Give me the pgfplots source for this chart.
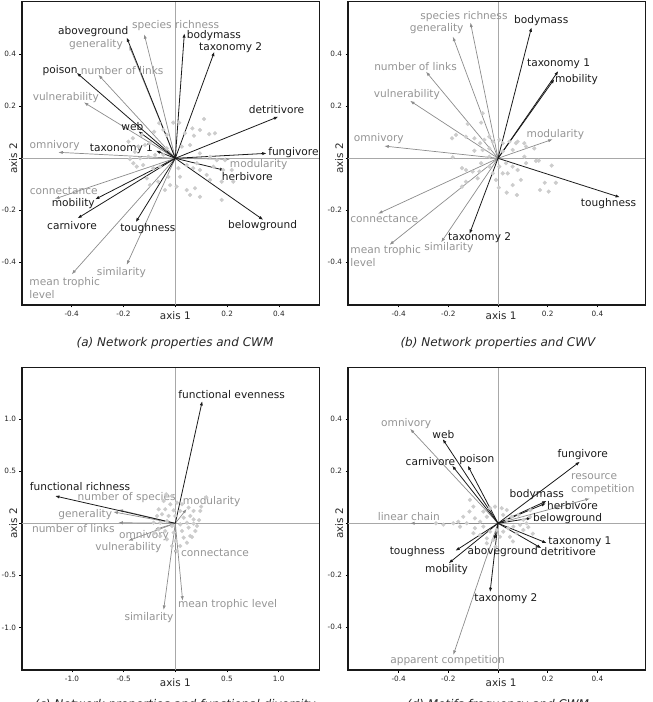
\documentclass[border=0pt]{standalone}
\usepackage{pgfplots}
\pgfplotsset{compat=1.18}
\usepackage{fontspec}
\setmainfont{DejaVu Sans}
\usetikzlibrary{arrows.meta}
\definecolor{arrblack}{HTML}{1A1A1A}
\definecolor{arrgray}{HTML}{8C8C8C}
\definecolor{txtblack}{HTML}{1A1A1A}
\definecolor{txtgray}{HTML}{949494}
\definecolor{dotgray}{HTML}{CCCCCC}
\definecolor{zerogray}{HTML}{A8A8A8}
\newcommand{\lab}{\fontsize{10.6}{13}\selectfont}
\newcommand{\tickf}{\fontsize{7.3}{8}\selectfont}
\newcommand{\axf}{\fontsize{10.4}{12}\selectfont}
\newcommand{\capf}{\fontsize{12}{14}\selectfont\itshape}
\pgfplotsset{
  bp/.style={scale only axis, anchor=south west, clip=false,
    axis line style={line width=1.1pt, black!90},
    tick pos=left,
    tick align=outside, major tick length=2.5pt,
    every tick/.style={black, line width=0.6pt},
    xticklabel style={font=\tickf, text=black!85},
    yticklabel style={font=\tickf, text=black!85}},
  ba/.style={arrblack, line width=0.8pt, -{Latex[length=4.5pt,width=3.2pt]},
    quiver={u=\thisrow{u}, v=\thisrow{v}}},
  ga/.style={arrgray, line width=0.7pt, -{Latex[length=4.5pt,width=3.2pt]},
    quiver={u=\thisrow{u}, v=\thisrow{v}}},
  dots/.style={only marks, mark=*, mark size=1.9pt, color=dotgray},
  zl/.style={zerogray, line width=0.6pt},
}
\tikzset{bl/.style={font=\lab, text=txtblack, inner sep=0pt},
         gl/.style={font=\lab, text=txtgray, inner sep=0pt}}
\begin{document}
\begin{tikzpicture}
\useasboundingbox (0,0) rectangle (653pt,702pt);
% ---------------- (a) ----------------
\begin{axis}[bp, at={(22pt,397pt)}, width=297.3pt, height=303.3pt,
  xmin=-0.592, xmax=0.556, ymin=-0.564, ymax=0.602,
  xtick={-0.4,-0.2,0,0.2,0.4}, xticklabels={-0.4,-0.2,,0.2,0.4},
  ytick={-0.4,-0.2,0,0.2,0.4}, yticklabels={-0.4,-0.2,,0.2,0.4}]
\addplot[zl] coordinates {(-0.592,0) (0.556,0)};
\addplot[zl] coordinates {(0,-0.564) (0,0.602)};
\addplot[dots] table {
x y
0.111 0.151
0.153 0.096
0.131 0.093
0.095 0.109
0.066 0.115
0.072 0.087
0.037 0.096
0.015 0.137
-0.008 0.137
-0.062 0.135
-0.082 0.102
-0.046 0.109
-0.033 0.090
-0.130 0.090
-0.164 0.077
-0.181 0.064
-0.117 0.051
-0.098 0.058
-0.143 0.045
-0.156 0.025
-0.175 -0.003
-0.136 0.000
-0.104 0.006
-0.078 0.013
-0.046 0.013
-0.033 0.038
0.025 0.045
0.057 0.051
0.095 0.019
0.134 0.006
0.160 -0.007
0.192 -0.007
0.083 -0.019
0.044 -0.026
0.012 -0.038
0.069 -0.038
0.095 -0.045
0.147 -0.032
0.185 -0.045
0.218 -0.045
0.121 -0.064
0.018 -0.071
-0.027 -0.071
-0.059 -0.032
-0.085 -0.038
-0.124 -0.026
-0.149 -0.032
-0.162 -0.019
-0.066 -0.090
-0.020 -0.103
0.005 -0.109
0.044 -0.122
0.076 -0.115
0.057 -0.141
0.095 -0.148
0.134 -0.083
0.179 -0.090
-0.040 -0.122
-0.098 -0.103
-0.110 -0.077
0.179 -0.160
0.224 -0.090
};
\addplot[ga] table[x expr=0, y expr=0] {
u v
-0.120 0.477
-0.178 0.432
-0.297 0.321
-0.353 0.215
-0.452 0.023
0.211 -0.004
-0.465 -0.156
-0.188 -0.410
-0.400 -0.446
};
\addplot[ba] table[x expr=0, y expr=0] {
u v
-0.188 0.465
0.035 0.481
0.151 0.410
-0.381 0.329
-0.143 0.104
-0.075 0.029
0.398 0.160
0.353 0.019
0.190 -0.046
0.340 -0.237
-0.310 -0.158
-0.378 -0.231
-0.153 -0.246
};
\node[gl] at (axis cs:0.001,0.509) {species richness};
\node[gl] at (axis cs:-0.306,0.438) {generality};
\node[gl] at (axis cs:-0.205,0.337) {number of links};
\node[gl] at (axis cs:-0.423,0.232) {vulnerability};
\node[gl] at (axis cs:-0.466,0.047) {omnivory};
\node[gl] at (axis cs:0.322,-0.024) {modularity};
\node[gl] at (axis cs:-0.431,-0.127) {connectance};
\node[gl] at (axis cs:-0.208,-0.438) {similarity};
\node[gl, align=left, anchor=west] at (axis cs:-0.564,-0.499) {mean trophic\\level};
\node[bl] at (axis cs:-0.317,0.486) {aboveground};
\node[bl] at (axis cs:0.149,0.471) {bodymass};
\node[bl] at (axis cs:0.214,0.427) {taxonomy 2};
\node[bl] at (axis cs:-0.445,0.337) {poison};
\node[bl] at (axis cs:-0.166,0.122) {web};
\node[bl] at (axis cs:-0.208,0.036) {taxonomy 1};
\node[bl] at (axis cs:0.391,0.187) {detritivore};
\node[bl] at (axis cs:0.456,0.022) {fungivore};
\node[bl] at (axis cs:0.278,-0.072) {herbivore};
\node[bl] at (axis cs:0.337,-0.260) {belowground};
\node[bl] at (axis cs:-0.394,-0.174) {mobility};
\node[bl] at (axis cs:-0.399,-0.258) {carnivore};
\node[bl] at (axis cs:-0.106,-0.271) {toughness};
\end{axis}
% ---------------- (b) ----------------
\begin{axis}[bp, at={(348pt,397pt)}, width=297.3pt, height=303.3pt,
  xmin=-0.604, xmax=0.593, ymin=-0.564, ymax=0.602,
  xtick={-0.4,-0.2,0,0.2,0.4}, xticklabels={-0.4,-0.2,,0.2,0.4},
  ytick={-0.4,-0.2,0,0.2,0.4}, yticklabels={-0.4,-0.2,,0.2,0.4}]
\addplot[zl] coordinates {(-0.604,0) (0.593,0)};
\addplot[zl] coordinates {(0,-0.564) (0,0.602)};
\addplot[dots] table {
x y
-0.122 0.132
-0.062 0.173
-0.068 0.137
-0.185 0.077
-0.169 0.090
-0.129 0.083
-0.095 0.077
-0.072 0.058
-0.055 0.071
-0.035 0.083
-0.021 0.064
0.005 0.071
0.019 0.058
0.046 0.064
0.072 0.058
0.079 0.064
0.106 0.058
0.113 0.045
0.146 0.038
0.019 0.026
0.059 0.032
-0.035 0.038
-0.062 0.032
-0.095 0.029
-0.182 0.004
-0.145 -0.038
-0.129 -0.045
-0.102 -0.051
-0.068 -0.019
-0.075 -0.051
-0.035 -0.032
-0.021 -0.058
0.005 -0.032
0.032 -0.019
0.039 -0.058
0.059 -0.032
0.079 -0.045
0.113 -0.019
0.153 -0.010
0.164 -0.009
0.216 -0.028
-0.145 -0.109
-0.129 -0.090
-0.082 -0.077
0.003 -0.113
0.035 -0.132
0.076 -0.141
0.059 -0.103
0.092 -0.083
0.188 -0.094
0.233 -0.094
0.169 -0.122
0.204 -0.128
-0.035 0.006
-0.008 -0.083
0.019 -0.058
0.106 0.006
};
\addplot[ga] table[x expr=0, y expr=0] {
u v
-0.111 0.522
-0.182 0.468
-0.290 0.333
-0.354 0.221
-0.458 0.047
0.220 0.073
-0.483 -0.213
-0.229 -0.323
-0.437 -0.333
};
\addplot[ba] table[x expr=0, y expr=0] {
u v
0.135 0.504
0.243 0.336
0.227 0.305
0.491 -0.150
-0.115 -0.291
};
\node[gl] at (axis cs:-0.137,0.545) {species richness};
\node[gl] at (axis cs:-0.247,0.497) {generality};
\node[gl] at (axis cs:-0.332,0.351) {number of links};
\node[gl] at (axis cs:-0.367,0.245) {vulnerability};
\node[gl] at (axis cs:-0.480,0.076) {omnivory};
\node[gl] at (axis cs:0.231,0.092) {modularity};
\node[gl] at (axis cs:-0.458,-0.232) {connectance};
\node[gl] at (axis cs:-0.198,-0.342) {similarity};
\node[gl, align=left, anchor=west] at (axis cs:-0.595,-0.376) {mean trophic\\level};
\node[bl] at (axis cs:0.174,0.529) {bodymass};
\node[bl] at (axis cs:0.244,0.363) {taxonomy 1};
\node[bl] at (axis cs:0.316,0.301) {mobility};
\node[bl] at (axis cs:0.445,-0.173) {toughness};
\node[bl] at (axis cs:-0.074,-0.306) {taxonomy 2};
\end{axis}
% ---------------- (c) ----------------
\begin{axis}[bp, at={(22pt,32pt)}, width=297.3pt, height=302.3pt,
  xmin=-1.484, xmax=1.394, ymin=-1.41, ymax=1.496,
  xtick={-1,-0.5,0,0.5,1}, xticklabels={-1.0,-0.5,,0.5,1.0},
  ytick={-1,-0.5,0,0.5,1}, yticklabels={-1.0,-0.5,,0.5,1.0}]
\addplot[zl] coordinates {(-1.484,0) (1.394,0)};
\addplot[zl] coordinates {(0,-1.41) (0,1.496)};
\addplot[dots] table {
x y
-0.087 0.279
-0.032 0.263
-0.113 0.215
-0.048 0.183
0.016 0.199
0.065 0.183
-0.161 0.135
-0.097 0.135
-0.016 0.125
0.048 0.119
0.129 0.151
0.177 0.119
0.242 0.119
-0.177 0.071
-0.129 0.087
-0.065 0.071
0.000 0.071
0.081 0.054
0.145 0.071
-0.145 0.006
-0.081 0.022
-0.032 -0.026
0.048 -0.010
0.113 0.006
0.177 -0.003
0.210 -0.026
-0.161 -0.058
-0.097 -0.074
-0.016 -0.090
0.065 -0.074
0.129 -0.042
0.194 -0.074
-0.145 -0.122
-0.081 -0.154
0.000 -0.170
0.081 -0.138
0.161 -0.131
-0.032 -0.218
0.048 -0.218
0.113 -0.186
0.016 -0.266
0.177 0.038
0.145 -0.122
-0.210 0.006
0.300 0.250
0.250 0.160
-0.200 -0.090
0.230 0.030
};
\addplot[ga] table[x expr=0, y expr=0] {
u v
-0.550 0.130
-0.600 0.110
-0.552 0.006
-0.200 -0.060
-0.455 -0.167
0.110 0.138
0.003 -0.304
0.071 -0.744
-0.113 -0.833
};
\addplot[ba] table[x expr=0, y expr=0] {
u v
0.261 1.176
-1.165 0.263
};
\node[gl] at (axis cs:-0.471,0.250) {number of species};
\node[gl] at (axis cs:-0.871,0.087) {generality};
\node[gl] at (axis cs:-0.987,-0.051) {number of links};
\node[gl] at (axis cs:-0.303,-0.119) {omnivory};
\node[gl] at (axis cs:-0.455,-0.234) {vulnerability};
\node[gl] at (axis cs:0.352,0.205) {modularity};
\node[gl] at (axis cs:0.384,-0.288) {connectance};
\node[gl] at (axis cs:0.506,-0.785) {mean trophic level};
\node[gl] at (axis cs:-0.255,-0.904) {similarity};
\node[bl] at (axis cs:0.545,1.234) {functional evenness};
\node[bl] at (axis cs:-0.923,0.353) {functional richness};
\end{axis}
% ---------------- (d) ----------------
\begin{axis}[bp, at={(348pt,32pt)}, width=297.3pt, height=302.3pt,
  xmin=-0.604, xmax=0.593, ymin=-0.564, ymax=0.598,
  xtick={-0.4,-0.2,0,0.2,0.4}, xticklabels={-0.4,-0.2,,0.2,0.4},
  ytick={-0.4,-0.2,0,0.2,0.4}, yticklabels={-0.4,-0.2,,0.2,0.4}]
\addplot[zl] coordinates {(-0.604,0) (0.593,0)};
\addplot[zl] coordinates {(0,-0.564) (0,0.598)};
\addplot[dots] table {
x y
-0.113 0.090
-0.099 0.064
-0.115 0.045
-0.140 0.025
-0.160 0.006
-0.126 0.000
-0.093 0.019
-0.059 0.045
-0.032 0.058
-0.012 0.064
0.015 0.058
0.035 0.051
-0.045 0.025
-0.072 0.006
-0.093 -0.019
-0.059 -0.013
-0.032 -0.032
-0.005 -0.026
0.021 -0.032
0.041 -0.019
0.062 -0.013
0.089 -0.006
0.115 0.000
0.102 -0.026
0.075 -0.038
0.048 -0.052
0.008 -0.052
-0.019 -0.064
-0.045 -0.058
-0.072 -0.045
-0.099 -0.038
0.021 0.032
0.055 0.025
0.082 0.032
0.102 0.013
0.122 -0.015
0.129 0.025
-0.045 -0.077
0.035 0.013
-0.153 -0.013
-0.180 0.000
-0.220 -0.005
-0.250 0.000
0.140 -0.040
0.130 0.050
-0.010 -0.090
0.060 -0.070
};
\addplot[ga] table[x expr=0, y expr=0] {
u v
-0.354 0.363
0.370 0.095
-0.354 0.000
-0.180 -0.506
};
\addplot[ba] table[x expr=0, y expr=0] {
u v
-0.223 0.324
-0.185 0.222
-0.122 0.222
0.330 0.237
0.196 0.086
0.193 0.077
0.135 0.020
0.196 -0.076
0.175 -0.096
-0.015 -0.064
-0.172 -0.106
-0.199 -0.154
-0.032 -0.265
};
\node[gl] at (axis cs:-0.370,0.385) {omnivory};
\node[gl, align=left, anchor=west] at (axis cs:0.294,0.150) {resource\\competition};
\node[gl] at (axis cs:-0.359,0.026) {linear chain};
\node[gl] at (axis cs:-0.203,-0.527) {apparent competition};
\node[bl] at (axis cs:-0.220,0.342) {web};
\node[bl] at (axis cs:-0.272,0.237) {carnivore};
\node[bl] at (axis cs:-0.085,0.244) {poison};
\node[bl] at (axis cs:0.341,0.265) {fungivore};
\node[bl] at (axis cs:0.156,0.109) {bodymass};
\node[bl] at (axis cs:0.300,0.067) {herbivore};
\node[bl] at (axis cs:0.280,0.019) {belowground};
\node[bl] at (axis cs:0.330,-0.071) {taxonomy 1};
\node[bl] at (axis cs:0.283,-0.110) {detritivore};
\node[bl] at (axis cs:0.019,-0.110) {aboveground};
\node[bl] at (axis cs:-0.325,-0.109) {toughness};
\node[bl] at (axis cs:-0.207,-0.177) {mobility};
\node[bl] at (axis cs:0.032,-0.290) {taxonomy 2};
\end{axis}
% ---------------- axis titles and captions ----------------
\node[font=\axf, text=black!85] at (175.3pt,386.3pt) {axis 1};
\node[font=\axf, text=black!85] at (501pt,386.3pt) {axis 1};
\node[font=\axf, text=black!85] at (175.3pt,19.3pt) {axis 1};
\node[font=\axf, text=black!85] at (501pt,19.3pt) {axis 1};
\node[font=\axf, text=black!85, rotate=90] at (13.3pt,543.7pt) {axis 2};
\node[font=\axf, text=black!85, rotate=90] at (339.3pt,543.7pt) {axis 2};
\node[font=\axf, text=black!85, rotate=90] at (13.3pt,178.7pt) {axis 2};
\node[font=\axf, text=black!85, rotate=90] at (339.3pt,178.7pt) {axis 2};
\node[font=\capf, text=black!85] at (175pt,359.3pt) {(a) Network properties and CWM};
\node[font=\capf, text=black!85] at (498pt,359.3pt) {(b) Network properties and CWV};
\node[font=\capf, text=black!85] at (175pt,-2.7pt) {(c) Network properties and functional diversity};
\node[font=\capf, text=black!85] at (498pt,-2.7pt) {(d) Motifs frequency and CWM};
\end{tikzpicture}
\end{document}
